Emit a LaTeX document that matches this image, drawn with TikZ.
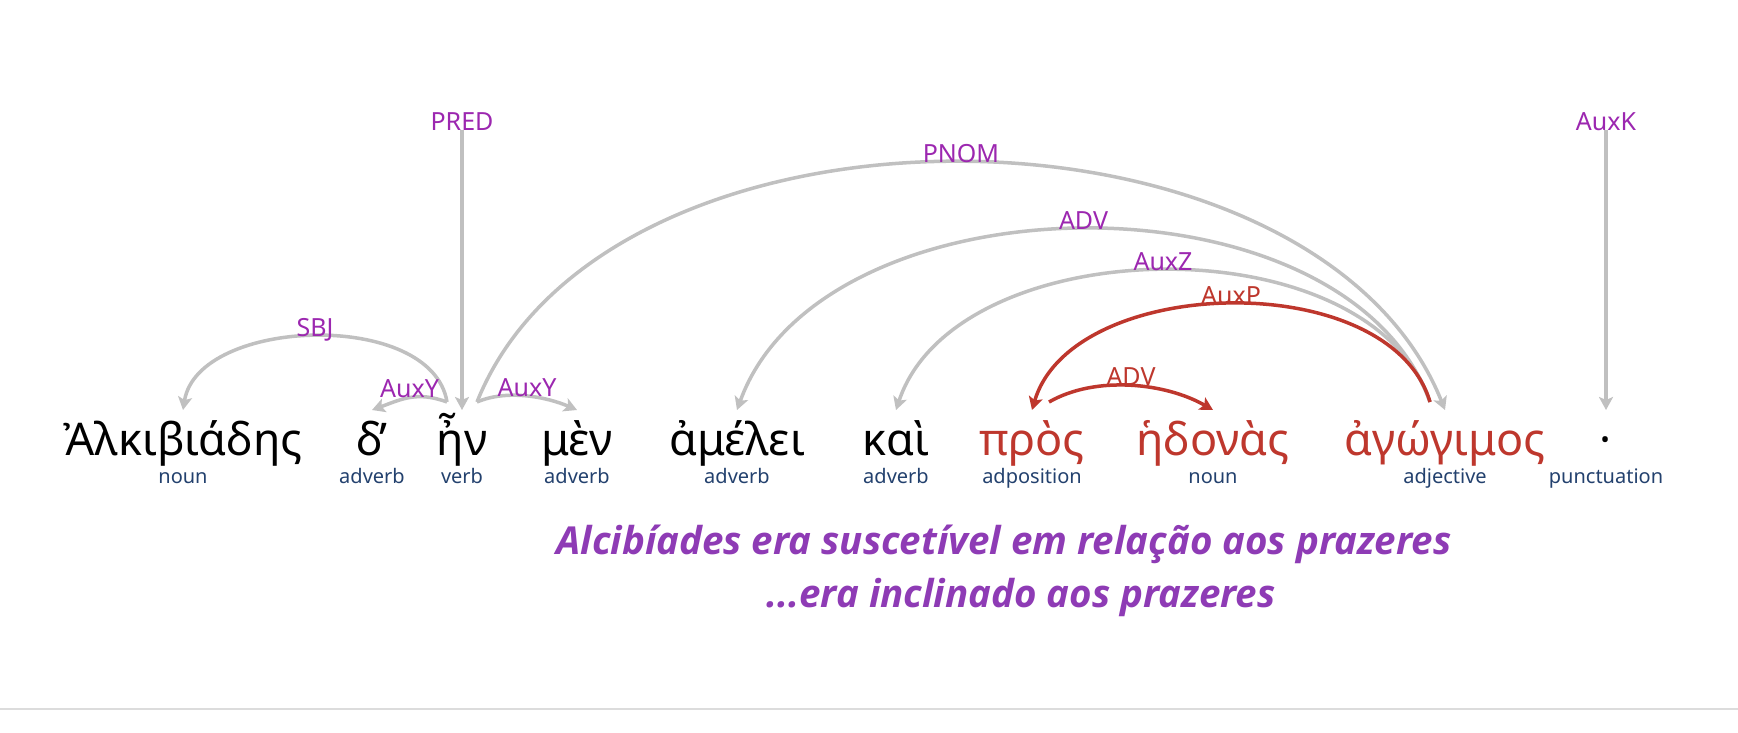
\documentclass[tikz,border=0pt]{standalone}
\usepackage{fontspec}
\setmainfont{Noto Sans}
\newfontfamily\capfont{Open Sans}
\usepackage{xcolor}
\usetikzlibrary{positioning,arrows.meta}

\definecolor{arcgray}{RGB}{192,192,192}
\definecolor{relpurple}{RGB}{156,39,176}
\definecolor{posblue}{RGB}{35,65,110}
\definecolor{deepred}{RGB}{190,55,45}
\definecolor{cappurple}{RGB}{142,59,181}
\definecolor{rulegray}{RGB}{220,220,220}

\tikzstyle{word} = [anchor=base, inner sep=0pt, font=\fontsize{45}{45}\selectfont]
\tikzstyle{redword} = [word, text=deepred]
\tikzstyle{postag} = [anchor=base, inner sep=0pt, text=posblue, font=\fontsize{20}{20}\selectfont]
\tikzstyle{rel} = [anchor=base, inner sep=0pt, text=relpurple, font=\fontsize{25}{25}\selectfont]
\tikzstyle{redrel} = [rel, text=deepred]
\tikzstyle{dep} = [draw=arcgray, line width=3.5pt, -{Stealth[length=13pt,width=14pt,inset=3pt]}]
\tikzstyle{reddep} = [dep, draw=deepred]
\tikzstyle{transl} = [anchor=base, inner sep=0pt, text=cappurple, font=\capfont\fontsize{38.5}{38.5}\selectfont\bfseries\itshape]

\begin{document}
\begin{tikzpicture}[x=1pt, y=-1pt]
    \fill[white] (0,0) rectangle (1738,732);
    \useasboundingbox (0,0) rectangle (1738,732);

    % Words
    \node[word] (alk) at (183,455) {Ἀλκιβιάδης};
    \node[word] (de) at (370,455) {δ̓};
    \node[word] (en) at (462,455) {ἦν};
    \node[word] (men) at (577,455) {μὲν};
    \node[word] (ame) at (737,455) {ἀμέλει};
    \node[word] (kai) at (896,455) {καὶ};
    \node[redword] (pros) at (1032,455) {πρὸς};
    \node[redword] (hed) at (1213,455) {ἡδονὰς};
    \node[redword] (ago) at (1445,455) {ἀγώγιμος};
    \node[word] (punct) at (1606,455) {·};

    % Parts of speech
    \node[postag] (alk pos) at (183,483) {noun};
    \node[postag] (de pos) at (372,483) {adverb};
    \node[postag] (en pos) at (462,483) {verb};
    \node[postag] (men pos) at (577,483) {adverb};
    \node[postag] (ame pos) at (737,483) {adverb};
    \node[postag] (kai pos) at (896,483) {adverb};
    \node[postag] (pros pos) at (1032,483) {adposition};
    \node[postag] (hed pos) at (1213,483) {noun};
    \node[postag] (ago pos) at (1445,483) {adjective};
    \node[postag] (punct pos) at (1606,483) {punctuation};

    % Arc ends
    \coordinate (alk in) at (183,410);
    \coordinate (de in) at (372,410);
    \coordinate (en in) at (462,410);
    \coordinate (men in) at (577,410);
    \coordinate (ame in) at (737,410);
    \coordinate (kai in) at (896,410);
    \coordinate (pros in) at (1032,410);
    \coordinate (hed in) at (1213,410);
    \coordinate (ago in) at (1445,410);
    \coordinate (punct in) at (1606,410);
    \coordinate (en root) at (462,130);
    \coordinate (punct root) at (1606,130);

    % Relations
    \draw[dep] (en root) node[rel] {PRED} -- (en in);
    \draw[dep] (punct root) node[rel] {AuxK} -- (punct in);
    \draw[dep] ([shift={(-15,-8)}]en in) .. controls +(-15,-93) and +(15,-93) .. node[rel, pos=0.5] {SBJ} (alk in);
    \draw[dep] ([shift={(-15,-8)}]en in) .. controls +(-30,-11) and +(30,-11) .. node[rel, pos=0.5] {AuxY} (de in);
    \draw[dep] ([shift={(15,-8)}]en in) .. controls +(30,-13) and +(-30,-13) .. node[rel, pos=0.5] {AuxY} (men in);
    \draw[dep] ([shift={(15,-8)}]en in) .. controls +(130,-325) and +(-130,-325) .. node[rel, pos=0.5] {PNOM} (ago in);
    \draw[dep] ([shift={(-15,-8)}]ago in) .. controls +(-85,-236) and +(85,-236) .. node[rel, pos=0.5] {ADV} (ame in);
    \draw[dep] ([shift={(-15,-8)}]ago in) .. controls +(-60,-181) and +(60,-181) .. node[rel, pos=0.5] {AuxZ} (kai in);
    \draw[reddep] ([shift={(-15,-8)}]ago in) .. controls +(-40,-136) and +(40,-136) .. node[redrel, pos=0.5] {AuxP} (pros in);
    \draw[reddep] ([shift={(17,-8)}]pros in) .. controls +(47,-27) and +(-47,-27) .. node[redrel, pos=0.5] {ADV} (hed in);

    % Translation
    \node[transl] (cap1) at (1004,554) {Alcibíades era suscetível em relação aos prazeres};
    \node[transl] (cap2) at (1021,607) {...era inclinado aos prazeres};

    \draw[rulegray, line width=2pt] (0,709) -- (1738,709);
\end{tikzpicture}
\end{document}
